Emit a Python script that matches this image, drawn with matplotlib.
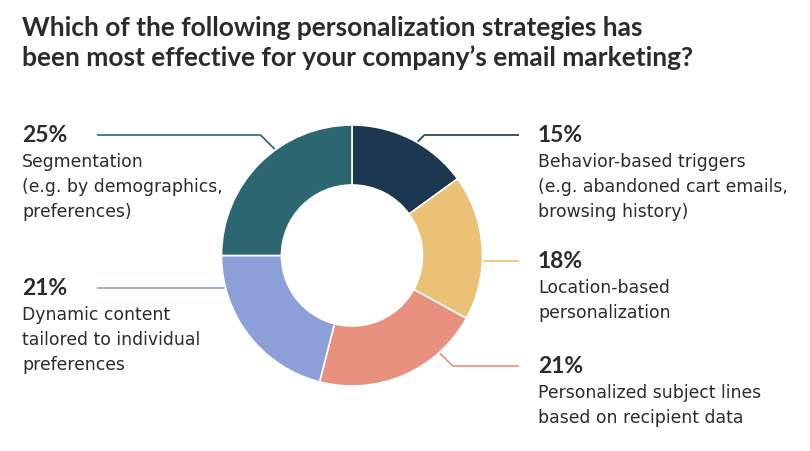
"""
Donut chart: most effective email personalization strategies.
"""
import numpy as np
import matplotlib.pyplot as plt

plt.rcParams['font.family'] = ['Lato', 'DejaVu Sans']

# Data
strategies = ['Behavior-based triggers', 'Location-based', 'Personalized subject lines',
              'Dynamic content', 'Segmentation']
shares = [15, 18, 21, 21, 25]
descriptions = [
    ['Behavior-based triggers', '(e.g. abandoned cart emails,', 'browsing history)'],
    ['Location-based', 'personalization'],
    ['Personalized subject lines', 'based on recipient data'],
    ['Dynamic content', 'tailored to individual', 'preferences'],
    ['Segmentation', '(e.g. by demographics,', 'preferences)'],
]
colors = ['#1b3850', '#ebc175', '#e8917f', '#8d9fd7', '#2c6671']

# Layout (pixels, y downwards)
W, H = 810, 451
cx, cy = 352, 255.5
r_out, r_in = 130.5, 70.5
label_side = ['right', 'right', 'right', 'left', 'left']
label_y = [135, 261, 366, 288, 135]
attach_deg = [30, 92, 138, 256, 324]   # clockwise from 12 o'clock
text_color = '#2b2b2b'
body_font = ['DejaVu Sans']

fig = plt.figure(figsize=(W / 100, H / 100), dpi=100)
ax = fig.add_axes([0, 0, 1, 1])

# with y inverted, counterclockwise in data = clockwise on screen
ax.pie(shares, colors=colors, center=(cx, cy), radius=r_out,
       startangle=-90, counterclock=True,
       wedgeprops=dict(width=r_out - r_in, edgecolor='white', linewidth=1.2))
ax.set_xlim(0, W)
ax.set_ylim(H, 0)
ax.set_aspect('equal')
ax.axis('off')

# Title
ax.text(22, 35.7, 'Which of the following personalization strategies has',
        fontsize=19, fontweight='bold', color=text_color, va='baseline')
ax.text(22, 66, 'been most effective for your company\u2019s email marketing?',
        fontsize=19, fontweight='bold', color=text_color, va='baseline')

# Labels with connector lines
for share, desc, col, side, ly, a in zip(shares, descriptions, colors,
                                         label_side, label_y, attach_deg):
    t = np.radians(a)
    sx = cx + (r_out + 1) * np.sin(t)
    sy = cy - (r_out + 1) * np.cos(t)
    sign = 1 if side == 'right' else -1
    ex = sx + sign * abs(ly - sy)
    end_x = 519 if side == 'right' else 97
    ax.plot([sx, ex, end_x], [sy, ly, ly], color=col, lw=1.2,
            solid_capstyle='butt')
    tx = 538 if side == 'right' else 22
    ax.text(tx, ly + 7, f'{share}%', fontsize=16.5, fontweight='bold',
            color=text_color, va='baseline')
    for i, line in enumerate(desc):
        ax.text(tx, ly + 32 + 25 * i, line, fontsize=12.4, family=body_font,
                color=text_color, va='baseline')

fig.savefig('out.png', dpi=100, facecolor='white')
